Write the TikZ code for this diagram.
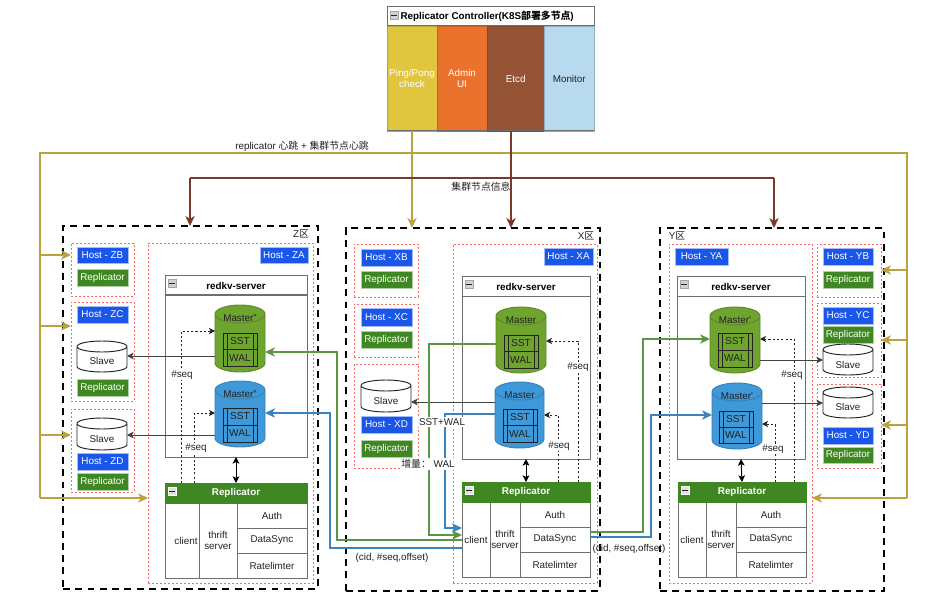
\documentclass[tikz,border=0pt]{standalone}
\usepackage{fontspec}
\setmainfont{Liberation Sans}
\newfontfamily\cjk{Noto Sans CJK SC}
\usetikzlibrary{arrows.meta,calc}
\definecolor{cyellow}{HTML}{E0C53F}
\definecolor{corange}{HTML}{EB722D}
\definecolor{cbrown}{HTML}{955335}
\definecolor{clblue}{HTML}{B7DAEE}
\definecolor{goldline}{HTML}{B9A23F}
\definecolor{brownline}{HTML}{7A3A28}
\definecolor{hostblue}{HTML}{1A56E8}
\definecolor{repgreen}{HTML}{3F8722}
\definecolor{cylgreen}{HTML}{6FA42E}
\definecolor{cylblue}{HTML}{3F98D8}
\definecolor{thickgreen}{HTML}{5B9644}
\definecolor{thickblue}{HTML}{3B82C0}
\definecolor{reddot}{HTML}{FF6666}
\definecolor{panelgray}{HTML}{6E6E6E}
\definecolor{ink}{HTML}{222222}
\tikzset{
 txt/.style={font=\fontsize{7.4}{8.7}\selectfont,text=ink,inner sep=0pt,align=center},
 zonebox/.style={draw=black,line width=1.7pt,dash pattern=on 5.2pt off 4pt},
 hostdot/.style={draw=reddot,line width=0.7pt,dash pattern=on 1.4pt off 1.6pt},
 hostn/.style={txt,fill=hostblue,draw=hostblue!40!white,line width=0.3pt,text=white},
 repn/.style={txt,fill=repgreen,draw=repgreen!40!white,line width=0.3pt,text=white},
 panel/.style={draw=panelgray,line width=0.75pt,fill=white},
 titlen/.style={draw=panelgray,line width=0.75pt,fill=white,txt,font=\fontsize{7.4}{8.7}\selectfont\bfseries,text=black},
 rephead/.style={draw=repgreen,line width=0.75pt,fill=repgreen,txt,font=\fontsize{7.4}{8.7}\selectfont\bfseries,text=white},
 cell/.style={draw=panelgray,line width=0.7pt,fill=white,txt},
 ctrl/.style={txt,line width=0.7pt},
 goldarrow/.style={draw=goldline,line width=1.1pt,-{Stealth[length=7.5pt,width=7pt,inset=2.2pt]}},
 goldplain/.style={draw=goldline,line width=1.1pt},
 brownarrow/.style={draw=brownline,line width=1.1pt,-{Stealth[length=7.5pt,width=7pt,inset=2.2pt]}},
 brownplain/.style={draw=brownline,line width=1.1pt},
 greenarrow/.style={draw=thickgreen,line width=1.1pt,-{Stealth[length=7.5pt,width=7pt,inset=2.2pt]}},
 bluearrow/.style={draw=thickblue,line width=1.1pt,-{Stealth[length=7.5pt,width=7pt,inset=2.2pt]}},
 seqarrow/.style={draw=ink,line width=0.55pt,dash pattern=on 1.6pt off 1.6pt,-{Stealth[length=4.5pt,width=4.5pt,inset=1.2pt]}},
 thinarrow/.style={draw=ink!85!white,line width=0.75pt,-{Stealth[length=5pt,width=5pt,inset=1.2pt]}},
 dblarrow/.style={draw=black,line width=0.75pt,{Stealth[length=5pt,width=5pt,inset=1.2pt]}-{Stealth[length=5pt,width=5pt,inset=1.2pt]}},
 ghost/.style={inner sep=0pt,outer sep=0pt},
 icon/.style={draw=gray!70!white,fill=gray!35!white,line width=0.3pt,minimum width=6pt,minimum height=6pt,inner sep=0pt},
}
\newcommand\boxn[7]{%
 \pgfmathsetmacro\bw{(#5-#3)*0.75}\pgfmathsetmacro\bh{(#6-#4)*0.75}%
 \node[#1,anchor=north west,minimum width=\bw pt,minimum height=\bh pt,outer sep=0pt] (#2) at (#3,#4) {#7};}
\newcommand\cyl[9]{%
 \pgfmathsetmacro\cx{(#2+#4)/2}\pgfmathsetmacro\rx{(#4-#2)/2}%
 \pgfmathsetmacro\ya{#3+#6}\pgfmathsetmacro\yb{#5-#6}%
 \path[fill=#7] (#2,\ya) -- (#2,\yb) arc[start angle=180,end angle=360,x radius=\rx,y radius=-#6]
   -- (#4,\ya) arc[start angle=0,end angle=180,x radius=\rx,y radius=-#6] -- cycle;
 \draw[draw=#8,line width=0.7pt] (#2,\ya) -- (#2,\yb) arc[start angle=180,end angle=360,x radius=\rx,y radius=-#6]
   -- (#4,\ya) arc[start angle=0,end angle=180,x radius=\rx,y radius=-#6] -- cycle
   (#2,\ya) arc[start angle=180,end angle=360,x radius=\rx,y radius=-#6];
 \boxn{ghost}{#1}{#2}{#3}{#4}{#5}{}%
 \node[txt] (#1t) at (\cx,#9) {\cylt};}
\newcommand\tbl[5]{%
 \pgfmathsetmacro\ym{(#3+#5)/2}\pgfmathsetmacro\xm{(#2+#4)/2}%
 \pgfmathsetmacro\xl{#2+4}\pgfmathsetmacro\xr{#4-4}%
 \pgfmathsetmacro\ys{(#3+\ym)/2}\pgfmathsetmacro\yw{(#5+\ym)/2}%
 \draw[draw=ink,line width=0.6pt] (#2,#3) rectangle (#4,#5) (#2,\ym) -- (#4,\ym)
   (\xl,#3) -- (\xl,#5) (\xr,#3) -- (\xr,#5);
 \node[txt,font=\fontsize{7.6}{9}\selectfont] (#1s) at (\xm,\ys) {SST};
 \node[txt,font=\fontsize{7.6}{9}\selectfont] (#1w) at (\xm,\yw) {WAL};}
\newcommand\server[6]{%
 \boxn{panel}{srv#1}{#2}{#3}{#4}{#5}{}%
 \boxn{titlen}{srvh#1}{#2}{#3}{#4}{#6}{redkv-server}%
 \pgfmathsetmacro\ix{#2+7}\pgfmathsetmacro\iy{#3+7}%
 \node[icon] (srvi#1) at (\ix,\iy) {};\draw[ink,line width=0.5pt] ($(srvi#1)+(-1.9pt,0)$) -- ($(srvi#1)+(1.9pt,0)$);}
\def\clpad{}
\newcommand\repl[8]{%
 \pgfmathsetmacro\ra{#6+25}\pgfmathsetmacro\rb{#6+50}%
 \boxn{cell}{rcl#1}{#2}{#6}{#7}{#5}{\clpad client}%
 \boxn{cell}{rth#1}{#7}{#6}{#8}{#5}{thrift\\server}%
 \boxn{cell}{rau#1}{#8}{#6}{#4}{\ra}{Auth}%
 \boxn{cell}{rds#1}{#8}{\ra}{#4}{\rb}{DataSync}%
 \boxn{cell}{rrl#1}{#8}{\rb}{#4}{#5}{Ratelimter}%
 \boxn{rephead}{rep#1}{#2}{#3}{#4}{#6}{Replicator}%
 \pgfmathsetmacro\ix{#2+7}\pgfmathsetmacro\iy{#3+8}%
 \node[icon,draw=white,fill=gray!25!white] (repi#1) at (\ix,\iy) {};\draw[ink,line width=0.5pt] ($(repi#1)+(-1.9pt,0)$) -- ($(repi#1)+(1.9pt,0)$);}
\begin{document}
\begin{tikzpicture}[x=0.75pt,y=-0.75pt]
\useasboundingbox (0,0) rectangle (936,599);
\fill[white] (0,0) rectangle (936,599);

%%% Controller
\boxn{titlen,draw=none}{ctrlT}{387}{7}{594}{26}{Replicator Controller(K8S{\cjk 部署多节点})\hspace{5pt}}
\draw[panelgray,line width=0.75pt] (387,7) rectangle (594,26);
\node[icon] (ctrlI) at (394,15) {};\draw[ink,line width=0.5pt] ($(ctrlI)+(-1.9pt,0)$) -- ($(ctrlI)+(1.9pt,0)$);
\boxn{ctrl,fill=cyellow,draw=cyellow!85!black,text=white}{ping}{387}{26}{437}{131}{Ping/Pong\\check}
\boxn{ctrl,fill=corange,draw=corange!85!black,text=white}{admin}{437}{26}{487}{131}{Admin\\UI}
\boxn{ctrl,fill=cbrown,draw=cbrown!85!black,text=white}{etcd}{487}{26}{544.5}{131}{Etcd}
\boxn{ctrl,fill=clblue,draw=clblue!80!black}{mon}{544.5}{26}{594}{131}{Monitor}
\draw[panelgray,line width=0.75pt] (387,131) -- (594,131);

%%% Zones
\boxn{zonebox}{zoneZ}{63}{226}{318}{589}{}
\boxn{zonebox}{zoneX}{346}{228}{600}{591}{}
\boxn{zonebox}{zoneY}{660}{228}{884}{591}{}
\node[txt] (lz) at (301,234) {Z{\cjk 区}};
\node[txt] (lx) at (586,236) {X{\cjk 区}};
\node[txt] (ly) at (677,236) {Y{\cjk 区}};

%%% Z zone hosts
\boxn{hostdot}{gZB}{71}{243}{134}{296}{}
\boxn{hostdot}{gZC}{71}{302}{134}{401}{}
\boxn{hostdot}{gZD}{71}{409}{134}{492}{}
\boxn{hostdot}{gZA}{148}{243}{313}{583}{}
\boxn{hostn}{hZB}{77}{247}{128}{263}{Host - ZB}
\boxn{repn}{rZB}{77}{269}{128}{286}{Replicator}
\boxn{hostn}{hZC}{77}{306}{128}{323}{Host - ZC}
\boxn{repn}{rZC}{77}{379}{128}{396}{Replicator}
\boxn{hostn}{hZD}{77}{453}{128}{470}{Host - ZD}
\boxn{repn}{rZD}{77}{473}{128}{490}{Replicator}
\boxn{hostn}{hZA}{260}{247}{308}{263}{Host - ZA}
\def\cylt{Slave}
\cyl{sZC}{77}{341}{127}{372}{5.5}{white}{ink}{361}
\cyl{sZD}{77}{418}{127}{450}{5.5}{white}{ink}{439}
\server{Z}{165}{276}{307}{457}{295}
\def\cylt{Master"}
\cyl{gcZ}{215}{305}{265}{372}{9}{cylgreen}{cylgreen!85!black}{318}
\cyl{bcZ}{215}{381}{265}{447}{9}{cylblue}{cylblue!85!black}{394}
\tbl{gtZ}{223}{333}{257}{366}
\tbl{btZ}{223}{408}{257}{442}
\def\clpad{\hspace{6pt}}
\repl{Z}{165}{483}{307}{578}{503}{199}{237}
\def\clpad{}

%%% X zone hosts
\boxn{hostdot}{gXB}{354}{244}{418}{297}{}
\boxn{hostdot}{gXC}{354}{304}{418}{357}{}
\boxn{hostdot}{gXD}{354}{364}{418}{468}{}
\boxn{hostdot}{gXA}{453}{244}{597}{583}{}
\boxn{hostn}{hXB}{361}{249}{412}{266}{Host - XB}
\boxn{repn}{rXB}{361}{271}{412}{288}{Replicator}
\boxn{hostn}{hXC}{361}{308}{412}{326}{Host - XC}
\boxn{repn}{rXC}{361}{331}{412}{348}{Replicator}
\boxn{hostn}{hXD}{361}{416}{412}{433}{Host - XD}
\boxn{repn}{rXD}{361}{440}{412}{457}{Replicator}
\boxn{hostn}{hXA}{544}{248}{593}{265}{Host - XA}
\def\cylt{Slave}
\cyl{sXD}{361}{380}{411}{412}{5.5}{white}{ink}{401}
\server{X}{462}{277}{590}{459}{296}
\def\cylt{Master}
\cyl{gcX}{496}{307}{546}{373}{9}{cylgreen}{cylgreen!85!black}{320}
\cyl{bcX}{495}{382}{544}{448}{9}{cylblue}{cylblue!85!black}{395}
\tbl{gtX}{504}{335}{538}{368}
\tbl{btX}{503}{409}{537}{442}
\repl{X}{462}{482}{590}{577}{502}{490}{520}

%%% Y zone hosts
\boxn{hostdot}{gYB}{817}{244}{881}{297}{}
\boxn{hostdot}{gYC}{817}{303}{881}{377}{}
\boxn{hostdot}{gYD}{817}{384}{881}{468}{}
\boxn{hostdot}{gYA}{669}{244}{812}{583}{}
\boxn{hostn}{hYB}{823}{248}{873}{265}{Host - YB}
\boxn{repn}{rYB}{823}{271}{873}{288}{Replicator}
\boxn{hostn}{hYC}{823}{307}{873}{324}{Host - YC}
\boxn{repn}{rYC}{823}{326}{873}{343}{Replicator}
\boxn{hostn}{hYD}{823}{427}{873}{444}{Host - YD}
\boxn{repn}{rYD}{823}{447}{873}{463}{Replicator}
\boxn{hostn}{hYA}{675}{248}{728}{265}{Host - YA}
\def\cylt{Slave}
\cyl{sYC}{823}{344}{873}{375}{5.5}{white}{ink}{365}
\cyl{sYD}{823}{387}{873}{418}{5.5}{white}{ink}{407}
\server{Y}{677}{277}{805}{459}{296}
\def\cylt{Master\textquotesingle}
\cyl{gcY}{710}{307}{760}{373}{9}{cylgreen}{cylgreen!85!black}{320}
\cyl{bcY}{712}{383}{762}{449}{9}{cylblue}{cylblue!85!black}{396}
\tbl{gtY}{718}{333}{752}{367}
\tbl{btY}{719}{411}{753}{443}
\repl{Y}{678}{482}{806}{577}{502}{706}{736}

%%% Heartbeat (gold)
\draw[goldarrow] (ping.south) -- (ping.south |- zoneX.north);
\coordinate (gl1) at (40,255); \coordinate (gl2) at (40,326); \coordinate (gl3) at (40,435); \coordinate (gl4) at (40,498);
\coordinate (gr1) at (907,270); \coordinate (gr2) at (907,340); \coordinate (gr3) at (907,425); \coordinate (gr4) at (907,498);
\coordinate (glt) at (40,153); \coordinate (grt) at (907,153);
\draw[goldplain] (gl4) -- (glt) -- (grt) -- (gr4);
\draw[goldarrow] (gl1) -- (gl1 -| gZB.west);
\draw[goldarrow] (gl2) -- (gl2 -| gZC.west);
\draw[goldarrow] (gl3) -- (gl3 -| gZD.west);
\draw[goldarrow] (gl4) -- (gl4 -| gZA.west);
\draw[goldarrow] (gr1) -- (gr1 -| gYB.east);
\draw[goldarrow] (gr2) -- (gr2 -| gYC.east);
\draw[goldarrow] (gr3) -- (gr3 -| gYD.east);
\draw[goldarrow] (gr4) -- (gr4 -| gYA.east);

%%% Cluster info (brown)
\coordinate (etcdDown) at (511,131);
\draw[brownarrow] (etcdDown) -- (etcdDown |- zoneX.north);
\coordinate (bl) at (190,178); \coordinate (br) at (774,178);
\draw[brownplain] (bl) -- (br);
\draw[brownarrow] (br) -- (br |- zoneY.north);
\draw[brownarrow] (bl) -- (bl |- zoneZ.north);

%%% Slave arrows
\coordinate (a1) at (0,356); \coordinate (a2) at (0,435); \coordinate (a3) at (0,402);
\coordinate (a4) at (0,360); \coordinate (a5) at (0,403);
\draw[thinarrow] (gcZ.west |- a1) -- (sZC.east |- a1);
\draw[thinarrow] (bcZ.west |- a2) -- (sZD.east |- a2);
\draw[thinarrow] (bcX.west |- a3) -- (sXD.east |- a3);
\draw[thinarrow] (gcY.east |- a4) -- (sYC.west |- a4);
\draw[thinarrow] (bcY.east |- a5) -- (sYD.west |- a5);

%%% seq arrows
\coordinate (z1) at (181,331); \coordinate (z2) at (194,413);
\draw[seqarrow] (repZ.north -| z1) -- (z1) -- (gcZ.west |- z1);
\draw[seqarrow] (repZ.north -| z2) -- (z2) -- (bcZ.west |- z2);
\coordinate (x1) at (578,341); \coordinate (x2) at (558,415);
\draw[seqarrow] (repX.north -| x1) -- (x1) -- (gcX.east |- x1);
\draw[seqarrow] (repX.north -| x2) -- (x2) -- (bcX.east |- x2);
\coordinate (y1) at (794,339); \coordinate (y2) at (775,424);
\draw[seqarrow] (repY.north -| y1) -- (y1) -- (gcY.east |- y1);
\draw[seqarrow] (repY.north -| y2) -- (y2) -- (bcY.east |- y2);
\node[txt,fill=white,inner sep=0.6pt] (sq1) at (182,375) {\#seq};
\node[txt,fill=white,inner sep=0.6pt] (sq2) at (196,448) {\#seq};
\node[txt,fill=white,inner sep=0.6pt] (sq3) at (578,367) {\#seq};
\node[txt,fill=white,inner sep=0.6pt] (sq4) at (559,446) {\#seq};
\node[txt,fill=white,inner sep=0.6pt] (sq5) at (792,375) {\#seq};
\node[txt,fill=white,inner sep=0.6pt] (sq6) at (773,449) {\#seq};

%%% server <-> replicator
\draw[dblarrow] (srvZ.south) -- (repZ.north);
\draw[dblarrow] (srvX.south) -- (repX.north);
\draw[dblarrow] (srvY.south) -- (repY.north);

%%% Thick sync lines
\coordinate (m1) at (337,352); \coordinate (m2) at (330,413);
\draw[greenarrow] (rclX.west |- 0,540) -- (m1 |- 0,540) -- (m1) -- (gcZ.east |- m1);
\draw[bluearrow] (rclX.west |- 0,548) -- (m2 |- 0,548) -- (m2) -- (bcZ.east |- m2);
\coordinate (m3) at (429,344); \coordinate (m4) at (445,414);
\draw[greenarrow] (gcX.west |- m3) -- (m3) -- (m3 |- 0,535) -- (rclX.west |- 0,535);
\draw[bluearrow] (bcX.west |- m4) -- (m4) -- (m4 |- 0,528) -- (rclX.west |- 0,528);
\coordinate (m5) at (643,339); \coordinate (m6) at (651,415);
\draw[greenarrow] (rdsX.east |- 0,532) -- (m5 |- 0,532) -- (m5) -- (gcY.west |- m5);
\draw[bluearrow] (rdsX.east |- 0,537) -- (m6 |- 0,537) -- (m6) -- (bcY.west |- m6);

%%% Labels
\node[txt] (lb1) at (302,146) {replicator {\cjk 心跳} + {\cjk 集群节点心跳}};
\node[txt] (lb2) at (481,187) {{\cjk 集群节点信息}};
\node[txt,fill=white,inner sep=0.8pt] (lb3) at (442,422) {SST+WAL};
\node[txt,fill=white,inner sep=0.8pt] (lb4) at (428,464) {{\cjk 增量：} WAL};
\node[txt,fill=white,inner sep=0.8pt] (lb5) at (392,558) {(cid, \#seq,offset)};
\node[txt] (lb6) at (629,549) {(cid, \#seq,offset)};
\end{tikzpicture}
\end{document}
